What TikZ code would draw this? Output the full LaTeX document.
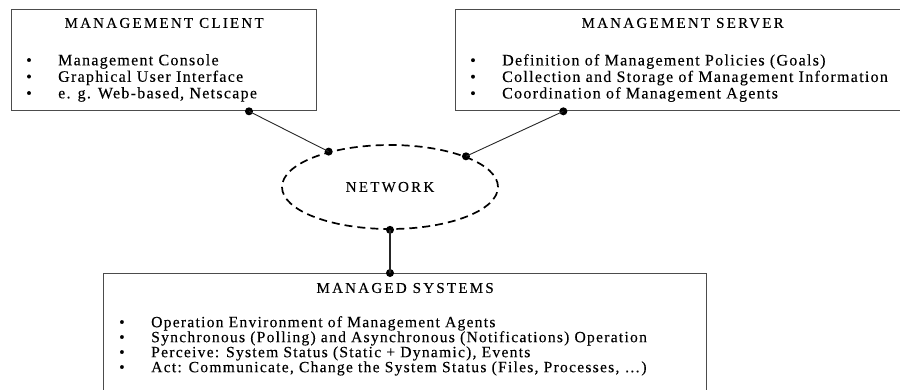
\documentclass[tikz,border=0pt]{standalone}
\usepackage{fontspec}
\setmainfont{Liberation Serif}[LetterSpace=8, FakeBold=0.15]
\newfontfamily\capsfont{Liberation Serif}[LetterSpace=15, FakeBold=0.15]
\usetikzlibrary{calc,shapes.geometric}

% one bullet line of a box list
\newcommand{\itm}[1]{\makebox[32pt][l]{\textbullet}#1}

\begin{document}
\begin{tikzpicture}[
  x=1pt, y=-1pt,
  box/.style={draw=black!70, line width=1.3pt, anchor=north west, inner sep=0pt},
  ttl/.style={inner sep=0pt, font=\capsfont\fontsize{15}{16}\selectfont},
  lst/.style={align=left, anchor=north west, inner sep=0pt,
              font=\fontsize{16}{16.5}\selectfont},
  netw/.style={draw, ellipse, dash pattern=on 8pt off 5pt, line width=1.7pt,
               minimum width=216pt, minimum height=84pt, inner sep=0pt},
  dot/.style={circle, fill=black, inner sep=0pt, minimum size=8pt},
  link/.style={draw=black!85, line width=0.9pt}
]
\useasboundingbox (0,0) rectangle (900,389);
\clip (0,0) rectangle (900,389);

% ---------------------------------------------------------------------------
% The three boxes
% ---------------------------------------------------------------------------
\node[box, minimum width=305pt, minimum height=101pt] (client) at (11,9) {};
\node[ttl] (clientttl) at ($(client.north)+(0,14)$) {MANAGEMENT CLIENT};
\node[lst] (clientlst) at (26,54) {\itm{Management Console}\\
  \itm{Graphical User Interface}\\
  \itm{e. g. Web-based, Netscape}};

\node[box, minimum width=454pt, minimum height=101pt] (server) at (455,9) {};
\node[ttl] (serverttl) at ($(server.north)+(0,14)$) {MANAGEMENT SERVER};
\node[lst] (serverlst) at (470,54) {\itm{Definition of Management Policies (Goals)}\\
  \itm{Collection and Storage of Management Information}\\
  \itm{Coordination of Management Agents}};

\node[box, minimum width=603pt, minimum height=130pt] (managed) at (103,273) {};
\node[ttl] (managedttl) at ($(managed.north)+(0,15)$) {MANAGED SYSTEMS};
\node[lst, font=\fontsize{15.6}{15}\selectfont] (managedlst) at (119,316)
  {\itm{Operation Environment of Management Agents}\\
  \itm{Synchronous (Polling) and Asynchronous (Notifications) Operation}\\
  \itm{Perceive: System Status (Static + Dynamic), Events}\\
  \itm{Act: Communicate, Change the System Status (Files, Processes, \dots)}};

% ---------------------------------------------------------------------------
% Network in the middle
% ---------------------------------------------------------------------------
\node[netw, font=\capsfont\fontsize{15}{16}\selectfont] (net) at (390,187) {NETWORK};

% connection points
\node[dot] (clientdot) at ($(client.south west)!0.777!(client.south east)$) {};
\node[dot] (serverdot) at ($(server.south west)!0.238!(server.south east)$) {};
\node[dot] (netleft) at (net.150) {};
\node[dot] (netright) at (net.22) {};
\node[dot] (netbottom) at (net.south) {};
\node[dot] (manageddot) at (net.south |- managed.north) {};

\draw[link] (clientdot.center) -- (netleft.center);
\draw[link] (serverdot.center) -- (netright.center);
\draw[link, line width=1.5pt] (netbottom.center) -- (manageddot.center);

\end{tikzpicture}
\end{document}
